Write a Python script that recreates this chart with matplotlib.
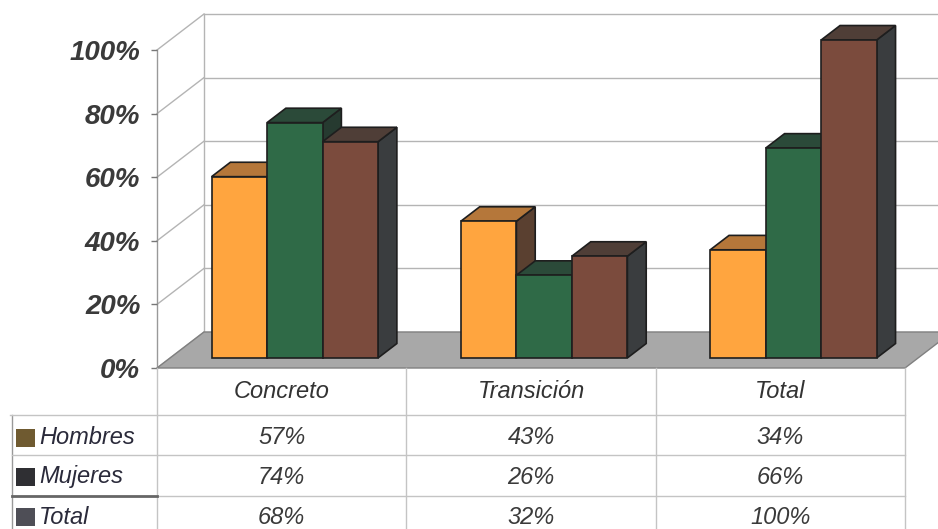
import matplotlib
matplotlib.use("Agg")
import matplotlib.pyplot as plt
from matplotlib.patches import Polygon, Rectangle

plt.rcParams['font.family'] = ['Liberation Sans', 'DejaVu Sans']

# data
categories = ['Concreto', 'Transición', 'Total']
series = ['Hombres', 'Mujeres', 'Total']
hombres = [57, 43, 34]
mujeres = [74, 26, 66]
total = [68, 32, 100]
yticks = [0, 20, 40, 60, 80, 100]

values = [hombres, mujeres, total]
front_colors = ['#FFA53F', '#2F6A47', '#7B4B3D']
top_colors = ['#B5773A', '#2B4A39', '#4F3E37']
side_colors = ['#5a4030', '#263a30', '#3A3D3F']
key_colors = ['#6F5A30', '#2F2F33', '#4E4E56']

W, H = 938, 529
fig = plt.figure(figsize=(W / 100, H / 100), dpi=100)
fig.patch.set_facecolor('white')

# front plane of the plot: x in category units, y in percent
ax = fig.add_axes([157 / W, (H - 368) / H, 748 / W, 318 / H])
ax.set_xlim(0, 3)
ax.set_ylim(0, 100)
for s in ax.spines.values():
    s.set_visible(False)
ax.set_xticks([])
ax.set_yticks(yticks)
ax.set_yticklabels(['%d%%' % t for t in yticks], fontsize=20, fontweight='bold',
                   fontstyle='italic', color='#3a3a3a')
ax.tick_params(axis='y', length=4, width=1, color='#777777', pad=8)
ax.patch.set_visible(False)

# depth of the box (47 px right, 36 px up)
DX = 47 / 249.33
DY = 36 / 3.18

grid = '#b4b4b4'
# floor
ax.add_patch(Polygon([(0, 0), (3, 0), (3 + DX, DY), (DX, DY)], closed=True,
                     facecolor='#a8a8a8', edgecolor='#808080', lw=1, clip_on=False, zorder=1))
# walls / gridlines
for t in yticks:
    ax.plot([DX, 3.3], [t + DY, t + DY], color=grid, lw=1, clip_on=False, zorder=0)
    ax.plot([0, DX], [t, t + DY], color=grid, lw=1, clip_on=False, zorder=0)
ax.plot([DX, DX], [DY, 100 + DY], color=grid, lw=1, clip_on=False, zorder=0)
ax.plot([0, 0], [0, 100], color='#999999', lw=1, clip_on=False, zorder=0)

# bars
w = 55.5 / 249.33
d0, d1 = 0.28, 0.68
for i in range(len(categories)):
    start = i + 0.5 - 1.5 * w
    for j in range(len(series)):
        v = values[j][i]
        x0 = start + j * w + d0 * DX
        y0 = d0 * DY
        x1 = x0 + w
        ddx = (d1 - d0) * DX
        ddy = (d1 - d0) * DY
        z = 3 + i * 3 + j
        side = [(x1, y0), (x1 + ddx, y0 + ddy), (x1 + ddx, y0 + v + ddy), (x1, y0 + v)]
        top = [(x0, y0 + v), (x1, y0 + v), (x1 + ddx, y0 + v + ddy), (x0 + ddx, y0 + v + ddy)]
        ax.add_patch(Polygon(side, closed=True, facecolor=side_colors[j], edgecolor='#1e1e1e',
                             lw=1.2, clip_on=False, zorder=z))
        ax.add_patch(Polygon(top, closed=True, facecolor=top_colors[j], edgecolor='#1e1e1e',
                             lw=1.2, clip_on=False, zorder=z))
        ax.add_patch(Rectangle((x0, y0), w, v, facecolor=front_colors[j], edgecolor='#1e1e1e',
                               lw=1.2, clip_on=False, zorder=z))

# data table under the plot (y in pixels below the floor edge)
tab = fig.add_axes([157 / W, 0, 748 / W, (H - 368) / H])
tab.set_xlim(0, 3)
tab.set_ylim(161, 0)
tab.axis('off')
px = 249.33
left = -157 / px
row_edges = [47, 87, 128]
row_mid = [24, 70, 109, 149]
line = '#c4c4c4'
for k in range(4):
    tab.plot([k, k], [0, 161], color=line, lw=1, clip_on=False)
tab.plot([left + 12 / px, left + 12 / px], [row_edges[0], 161], color='#999999', lw=1, clip_on=False)
tab.plot([left + 10 / px, 3], [row_edges[0], row_edges[0]], color=line, lw=1, clip_on=False)
tab.plot([left + 12 / px, 3], [row_edges[1], row_edges[1]], color=line, lw=1, clip_on=False)
tab.plot([0, 3], [row_edges[2], row_edges[2]], color=line, lw=1, clip_on=False)
tab.plot([left + 12 / px, 0], [row_edges[2], row_edges[2]], color='#666666', lw=2, clip_on=False)

for i, c in enumerate(categories):
    tab.text(i + 0.5, row_mid[0], c, ha='center', va='center', fontsize=17,
             fontstyle='italic', color='#333333')
for j, name in enumerate(series):
    yr = row_mid[j + 1]
    tab.add_patch(Rectangle((left + 16 / px, yr - 9), 19 / px, 18,
                            facecolor=key_colors[j], edgecolor='none', clip_on=False))
    tab.text(left + 39 / px, yr, name, ha='left', va='center', fontsize=17,
             fontstyle='italic', color='#2a2a3a')
    for i in range(len(categories)):
        tab.text(i + 0.5, yr, '%d%%' % values[j][i], ha='center', va='center',
                 fontsize=17, fontstyle='italic', color='#3a3a3a')

fig.savefig('out.png', dpi=100)
